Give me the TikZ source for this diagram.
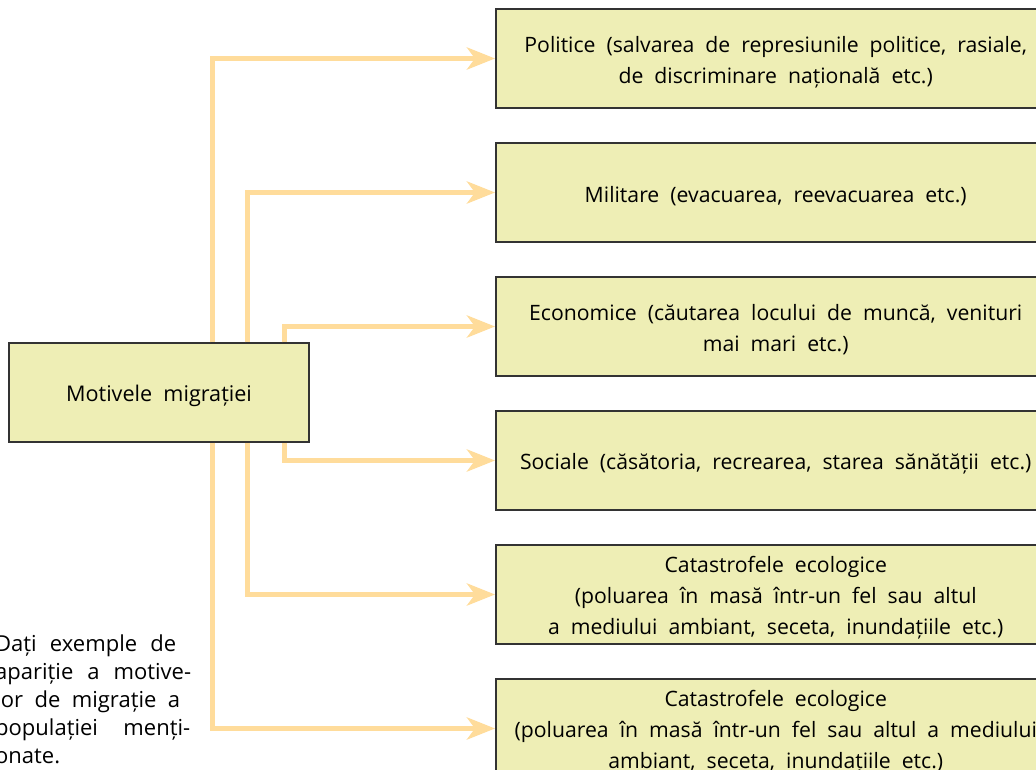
\documentclass[tikz,border=0pt]{standalone}
\usepackage{fontspec}
\setmainfont{Open Sans}[WordSpace=2.0]
\newfontfamily\parafont{Open Sans}
\usetikzlibrary{arrows.meta}
\definecolor{boxfill}{HTML}{EEEEB5}
\definecolor{boxline}{HTML}{333333}
\definecolor{arrowc}{HTML}{FFDC9B}
\begin{document}
\begin{tikzpicture}[x=1pt,y=-1pt,
  every node/.style={font=\fontsize{21.2}{31}\selectfont},
  mbox/.style={draw=boxline, line width=1.5pt, fill=boxfill, rectangle, inner sep=0pt},
  rbox/.style={mbox, minimum width=560pt, minimum height=99pt, anchor=west},
  btext/.style={inner sep=0pt, align=center, text=black},
  conn/.style={draw=arrowc, line width=5pt, -{Stealth[length=28pt,width=22pt,inset=8pt]}}
]
\useasboundingbox (0,0) rectangle (1036,770);
\node[mbox, minimum width=300pt, minimum height=99pt] (main) at (159,392.5) {};
\node[btext, font=\fontsize{21.6}{31}\selectfont] (tmain) at ([yshift=-3.7pt]main.center) {Motivele migrației};
\node[rbox] (b1) at (495,58.5) {};
\node[rbox] (b2) at (495,192.5) {};
\node[rbox] (b3) at (495,326.5) {};
\node[rbox] (b4) at (495,460.5) {};
\node[rbox] (b5) at (495,594.5) {};
\node[rbox] (b6) at (495,728.5) {};
\node[btext] (t1) at ([yshift=-3.5pt]b1.center) {Politice (salvarea de represiunile politice, rasiale,\\de discriminare națională etc.)};
\node[btext] (t2) at ([yshift=-3.5pt]b2.center) {Militare (evacuarea, reevacuarea etc.)};
\node[btext] (t3) at ([yshift=-3.5pt]b3.center) {Economice (căutarea locului de muncă, venituri\\mai mari etc.)};
\node[btext] (t4) at ([yshift=-3.5pt]b4.center) {Sociale (căsătoria, recrearea, starea sănătății etc.)};
\node[btext] (t5) at ([yshift=-3.5pt]b5.center) {Catastrofele ecologice\\(poluarea în masă într-un fel sau altul\\a mediului ambiant, seceta, inundațiile etc.)};
\node[btext] (t6) at ([yshift=-3.5pt]b6.center) {Catastrofele ecologice\\(poluarea în masă într-un fel sau altul a mediului\\ambiant, seceta, inundațiile etc.)};
\draw[conn] ([xshift=53pt]main.north) |- (b1.west);
\draw[conn] ([xshift=88pt]main.north) |- (b2.west);
\draw[conn] ([xshift=125pt]main.north) |- (b3.west);
\draw[conn] ([xshift=125pt]main.south) |- (b4.west);
\draw[conn] ([xshift=88pt]main.south) |- (b5.west);
\draw[conn] ([xshift=53pt]main.south) |- (b6.west);
\node[anchor=north west, inner sep=0pt, align=left, font=\parafont\fontsize{22}{28}\selectfont] (task) at (-5,635) {\makebox[181pt][s]{Dați exemple de}\\\makebox[196pt][s]{apariție a motive-}\\\makebox[185pt][s]{lor de migrație a}\\\makebox[195pt][s]{populației menți-}\\onate.};
\end{tikzpicture}
\end{document}
